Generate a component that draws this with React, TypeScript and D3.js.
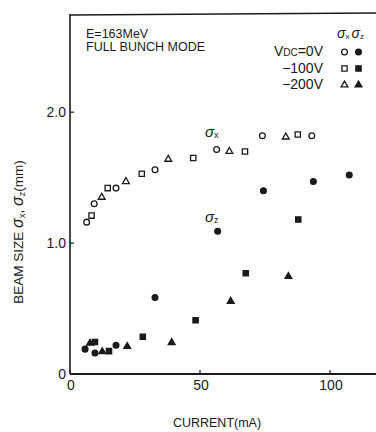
import React from "react";
import * as d3 from "d3";

// sigma x (open markers) — current (mA), size (mm)
const sxCircleI = [6.4, 9.3, 17.7, 32.7, 56.4, 74, 93];
const sxCircleV = [1.16, 1.3, 1.42, 1.56, 1.715, 1.82, 1.82];
const sxSquareI = [8.3, 14.5, 27.6, 47.4, 67.3, 87.6];
const sxSquareV = [1.21, 1.42, 1.53, 1.65, 1.7, 1.83];
const sxTriI = [12.2, 21.5, 37.8, 61.3, 83];
const sxTriV = [1.35, 1.47, 1.64, 1.7, 1.81];

// sigma z (filled markers)
const szCircleI = [5.8, 9.6, 17.7, 32.7, 56.8, 74.4, 93.6, 107.4];
const szCircleV = [0.19, 0.16, 0.22, 0.585, 1.09, 1.4, 1.47, 1.52];
const szSquareI = [9.6, 15, 28, 48.3, 67.6, 87.8];
const szSquareV = [0.245, 0.175, 0.285, 0.41, 0.77, 1.18];
const szTriI = [7.7, 12.4, 22, 39.1, 61.8, 84];
const szTriV = [0.235, 0.17, 0.21, 0.24, 0.555, 0.745];

const xTicks = [0, 50, 100];
const yTicks = [0, 1, 2];
const yTickLabels = ["0", "1.0", "2.0"];
const legendLabels = ["V", "−100V", "−200V"];

const font = "'Liberation Sans', Arial, sans-serif";
const ink = "#1a1a1a";

const App = () => {
  const width = 376;
  const height = 432;
  const left = 70;
  const bottom = 374;
  const top = 14;

  const x = d3.scaleLinear().domain([0, 120]).range([left, left + 120 * 2.6]);
  const y = d3.scaleLinear().domain([0, 2.75]).range([bottom, top]);

  const circle = d3.symbol().type(d3.symbolCircle).size(26)()!;
  const square = d3.symbol().type(d3.symbolSquare).size(28)()!;
  const tri = d3.symbol().type(d3.symbolTriangle).size(20)()!;

  const series = [
    { xs: sxCircleI, vs: sxCircleV, path: circle, filled: false },
    { xs: sxSquareI, vs: sxSquareV, path: square, filled: false },
    { xs: sxTriI, vs: sxTriV, path: tri, filled: false },
    { xs: szCircleI, vs: szCircleV, path: circle, filled: true },
    { xs: szSquareI, vs: szSquareV, path: square, filled: true },
    { xs: szTriI, vs: szTriV, path: tri, filled: true },
  ];

  const legendShapes = [circle, square, tri];

  const mark = (p: string, cx: number, cy: number, filled: boolean, key: string) => (
    <path
      key={key}
      d={p}
      transform={`translate(${cx},${cy})`}
      fill={filled ? ink : "none"}
      stroke={ink}
      strokeWidth={1.3}
    />
  );

  return (
    <svg
      width={width}
      height={height}
      style={{ position: "absolute", left: 0, top: 0, background: "#fff" }}
      fontFamily={font}
    >
      {/* frame */}
      <line x1={left} x2={width} y1={top + 1} y2={top - 1} stroke={ink} strokeWidth={1.6} />
      <line x1={left} x2={left} y1={top} y2={bottom} stroke={ink} strokeWidth={1.6} />
      <line x1={left} x2={width} y1={bottom} y2={bottom} stroke={ink} strokeWidth={2} />

      {/* ticks */}
      {xTicks.map((t) => (
        <g key={"x" + t}>
          <line x1={x(t)} x2={x(t)} y1={bottom} y2={bottom - 4} stroke={ink} strokeWidth={1.2} />
          <text x={x(t) + 1} y={bottom + 16} textAnchor="middle" fontSize={14} fill={ink}>
            {t}
          </text>
        </g>
      ))}
      {yTicks.map((t, i) => (
        <g key={"y" + t}>
          <line x1={left} x2={left + 4} y1={y(t)} y2={y(t)} stroke={ink} strokeWidth={1.2} />
          <text x={left - 4} y={y(t) + 5} textAnchor="end" fontSize={14} fill={ink}>
            {yTickLabels[i]}
          </text>
        </g>
      ))}

      {/* axis titles */}
      <text x={217} y={427} textAnchor="middle" fontSize={12.5} fill={ink}>
        CURRENT(mA)
      </text>
      <text
        transform="translate(23,232) rotate(-90)"
        textAnchor="middle"
        fontSize={13.5}
        fill={ink}
      >
        BEAM SIZE{"  "}
        <tspan fontStyle="italic" fontSize={16}>σ</tspan>
        <tspan fontSize={9.5} dy={2}>x</tspan>
        <tspan dy={-2}>,  </tspan>
        <tspan fontStyle="italic" fontSize={16}>σ</tspan>
        <tspan fontSize={9.5} dy={2}>z</tspan>
        <tspan dy={-2}>(mm)</tspan>
      </text>

      {/* annotation text */}
      <text x={86} y={38} fontSize={12.5} fill={ink}>E=163MeV</text>
      <text x={86} y={51} fontSize={12.5} fill={ink}>FULL BUNCH MODE</text>

      {/* legend */}
      <text x={337} y={38} fontSize={14} fill={ink} fontStyle="italic">
        σ<tspan fontSize={8} fontStyle="normal" dy={1}>x</tspan>
        <tspan dx={2} dy={-1}>σ</tspan>
        <tspan fontSize={8} fontStyle="normal" dy={1}>z</tspan>
      </text>
      {legendLabels.map((lab, i) => {
        const ly = 56 + i * 16.5;
        return (
          <g key={"leg" + i}>
            <text x={323} y={ly} textAnchor="end" fontSize={14} fill={ink}>
              {i === 0 ? (
                <>
                  V<tspan fontSize={10}>DC</tspan>=0V
                </>
              ) : (
                lab
              )}
            </text>
            {mark(legendShapes[i], 344.5, ly - 4, false, "lo" + i)}
            {mark(legendShapes[i], 358.5, ly - 4, true, "lf" + i)}
          </g>
        );
      })}

      {/* sigma labels in plot */}
      <text x={205} y={137} fontSize={15} fontStyle="italic" fill={ink}>
        σ<tspan fontSize={9} fontStyle="normal" dy={1}>x</tspan>
      </text>
      <text x={205} y={222} fontSize={15} fontStyle="italic" fill={ink}>
        σ<tspan fontSize={9} fontStyle="normal" dy={1}>z</tspan>
      </text>

      {/* data points */}
      {series.map((s, si) =>
        s.xs.map((cur, j) => mark(s.path, x(cur), y(s.vs[j]), s.filled, `p${si}-${j}`))
      )}
    </svg>
  );
};

export default App;
